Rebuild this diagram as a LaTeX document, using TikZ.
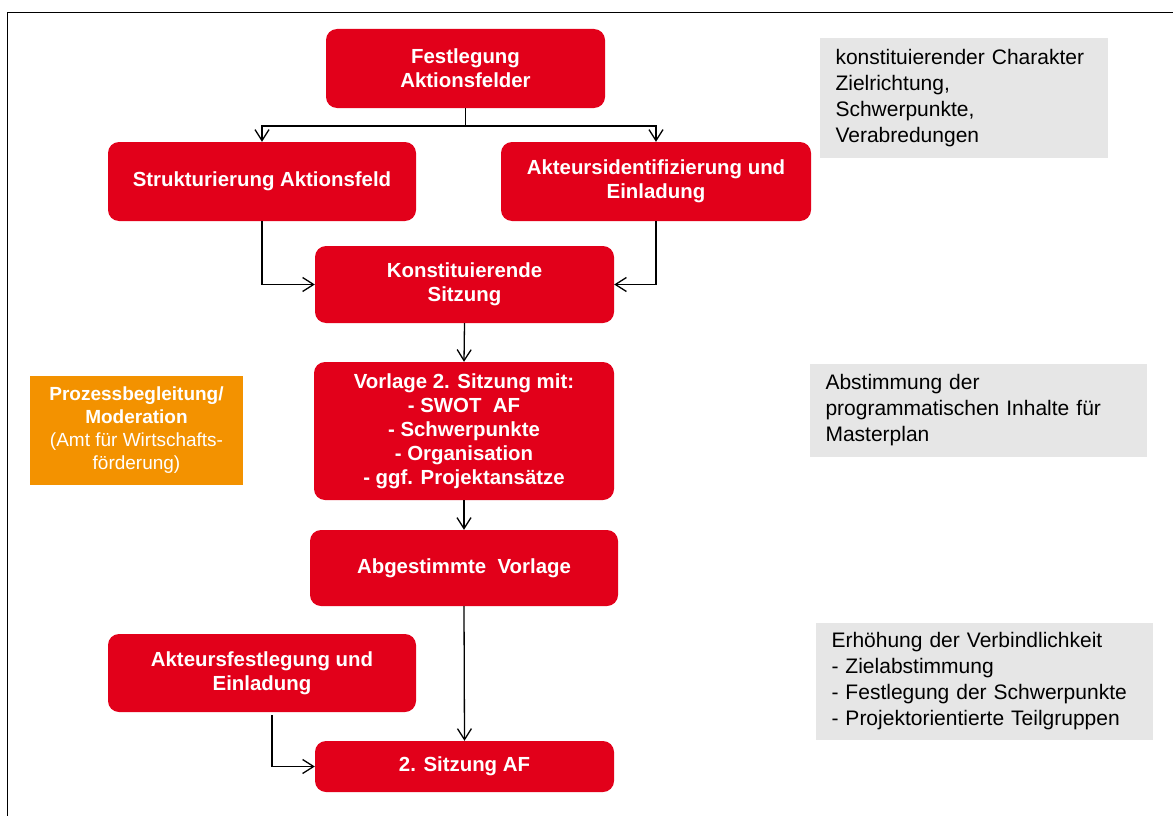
\documentclass[tikz,border=0pt]{standalone}
\usepackage{fontspec}
\setmainfont{Liberation Sans}
\usetikzlibrary{arrows.meta}
\definecolor{boxred}{RGB}{226,0,26}
\definecolor{boxorange}{RGB}{243,146,0}
\definecolor{boxgray}{RGB}{230,230,230}
\begin{document}
\begin{tikzpicture}[x=1pt,y=-1pt,
  redbox/.style={draw=none, fill=boxred, rounded corners=11pt, text=white,
    font=\bfseries\fontsize{20.4}{24}\selectfont, align=center, inner sep=0pt},
  orangebox/.style={draw=none, fill=boxorange, text=white,
    font=\fontsize{19}{23}\selectfont, align=center, inner sep=0pt},
  graybox/.style={draw=none, fill=boxgray, text=black,
    font=\fontsize{21}{26}\selectfont, align=left, inner xsep=15.5pt, inner ysep=0pt},
  link/.style={line width=1.3pt},
  arr/.style={link, -{Straight Barb[length=11pt,width=14pt]}}]
\useasboundingbox (0,0) rectangle (1173,816);
% frame
\draw[line width=1.3pt] (7.3,830) -- (7.3,12.3) -- (1185,12.3);
% red boxes
\node[redbox, minimum width=279pt, minimum height=79pt] (f) at (465.5,68.5) {Festlegung\\Aktionsfelder};
\node[redbox, minimum width=308pt, minimum height=79pt] (s) at (262,181.5) {Strukturierung Aktionsfeld};
\node[redbox, minimum width=310pt, minimum height=79pt] (a) at (656,181.5) {Akteursidentifizierung und\\Einladung};
\node[redbox, minimum width=299pt, minimum height=77pt] (k) at (464.5,284.5) {Konstituierende\\Sitzung};
\node[redbox, minimum width=300pt, minimum height=138pt] (v) at (464,431) {Vorlage 2. Sitzung mit:\\- SWOT~ AF\\- Schwerpunkte\\- Organisation\\- ggf. Projektans\"atze};
\node[redbox, minimum width=308pt, minimum height=76pt] (ab) at (464,568) {Abgestimmte~ Vorlage};
\node[redbox, minimum width=308pt, minimum height=78pt] (af) at (262,673) {Akteursfestlegung und\\Einladung};
\node[redbox, minimum width=299pt, minimum height=51pt] (z) at (464.5,766.5) {2. Sitzung AF};
% orange box
\node[orangebox, minimum width=213pt, minimum height=109pt] (o) at (136.5,430.5)
  {{\bfseries Prozessbegleitung/}\\{\bfseries Moderation}\\(Amt f\"ur Wirtschafts-\\f\"orderung)};
% gray boxes
\node[graybox, text width=257pt, minimum height=120pt] (g1) at (964,98)
  {konstituierender Charakter\\Zielrichtung,\\Schwerpunkte,\\Verabredungen};
\node[graybox, text width=306pt, minimum height=93pt] (g2) at (978.5,410.5)
  {Abstimmung der\\programmatischen Inhalte f\"ur\\Masterplan};
\node[graybox, text width=306pt, minimum height=117pt] (g3) at (984.5,681.5)
  {Erh\"ohung der Verbindlichkeit\\- Zielabstimmung\\- Festlegung der Schwerpunkte\\- Projektorientierte Teilgruppen};
% connectors
\coordinate (fj) at (465.5,126);
\draw[link] (f.south) -- (fj);
\draw[arr] (fj) -| (s.north);
\draw[arr] (fj) -| (a.north);
\draw[arr] (s.south) |- (k.west);
\draw[arr] (a.south) |- (k.east);
\draw[arr] (k.south) -- (v.north);
\draw[arr] (v.south) -- (ab.north);
\draw[arr] (ab.south) -- (z.north);
\draw[arr] ([xshift=10pt,yshift=-3pt]af.south) |- (z.west);
\end{tikzpicture}
\end{document}
